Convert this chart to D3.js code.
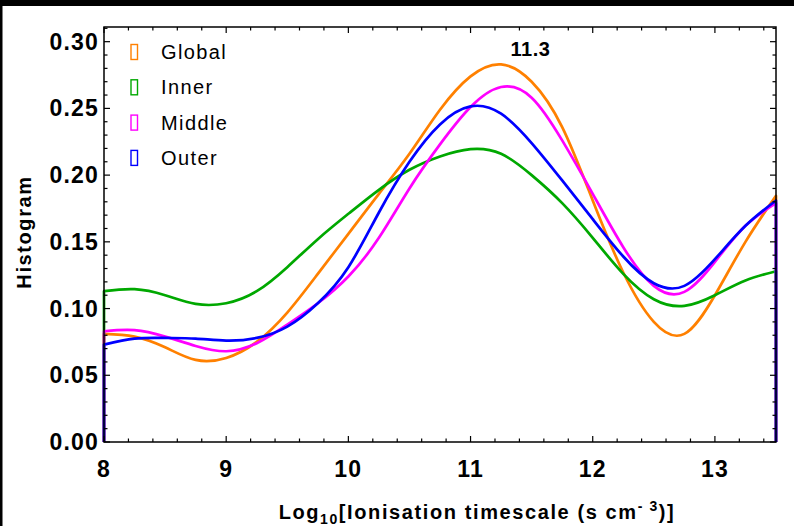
<!DOCTYPE html>
<html>
<head>
<meta charset="utf-8">
<script src="https://cdn.jsdelivr.net/npm/d3@7"></script>
<style>
  html, body { margin: 0; padding: 0; background: #fff; }
  svg { display: block; font-family: 'Liberation Sans', Arial, sans-serif; }
  .tick-label { font-weight: bold; font-size: 23px; letter-spacing: 1.2px; }
  .axis-title { font-weight: bold; font-size: 20px; letter-spacing: 1.6px; }
  .legend text { font-size: 20px; letter-spacing: 1.4px; }
</style>
</head>
<body>
<div id="chart"></div>
<script>
// x grid (log10 ionisation timescale)
const xs = [8, 8.25, 8.5, 8.75, 9, 9.25, 9.5, 9.75, 10, 10.25, 10.5, 10.75,
  11, 11.25, 11.5, 11.75, 12, 12.25, 12.5, 12.75, 13, 13.25, 13.5];

// histogram values, one array per region
const globalVals = [0.081, 0.079, 0.071, 0.0615, 0.063, 0.075, 0.097, 0.126, 0.156, 0.186, 0.216, 0.249,
  0.274, 0.283, 0.270, 0.236, 0.181, 0.127, 0.090, 0.081, 0.110, 0.150, 0.1845];
const innerVals = [0.113, 0.1145, 0.110, 0.1035, 0.104, 0.113, 0.131, 0.152, 0.171, 0.189, 0.204, 0.214,
  0.2195, 0.216, 0.200, 0.179, 0.153, 0.126, 0.107, 0.102, 0.110, 0.121, 0.128];
const middleVals = [0.083, 0.0838, 0.079, 0.072, 0.068, 0.074, 0.088, 0.104, 0.124, 0.153, 0.190, 0.223,
  0.251, 0.266, 0.258, 0.226, 0.186, 0.146, 0.117, 0.1125, 0.135, 0.162, 0.179];
const outerVals = [0.073, 0.0775, 0.078, 0.0775, 0.076, 0.078, 0.0865, 0.104, 0.131, 0.172, 0.210, 0.238,
  0.2515, 0.246, 0.224, 0.196, 0.167, 0.139, 0.119, 0.117, 0.137, 0.162, 0.181];

const seriesNames = ['Global', 'Inner', 'Middle', 'Outer'];
const seriesColors = ['#ff8000', '#00a800', '#ff00ff', '#0000ff'];
const seriesVals = [globalVals, innerVals, middleVals, outerVals];

const xTicks = [8, 9, 10, 11, 12, 13];
const yTicks = [0, 0.05, 0.10, 0.15, 0.20, 0.25, 0.30];
const peakLabel = '11.3';

const W = 794, H = 526;
const margin = { top: 27, right: 18, bottom: 84, left: 104 };
const width = W - margin.left - margin.right;
const height = H - margin.top - margin.bottom;

const svg = d3.select('#chart').append('svg')
  .attr('width', W).attr('height', H);

// black edges of the screenshot
svg.append('rect').attr('x', 0).attr('y', 0).attr('width', W).attr('height', 6).attr('fill', '#000');
svg.append('rect').attr('x', 0).attr('y', 0).attr('width', 2.5).attr('height', H).attr('fill', '#000');

const g = svg.append('g').attr('transform', `translate(${margin.left},${margin.top})`);

const xScale = d3.scaleLinear().domain([8, 13.5]).range([0, width]);
const yScale = d3.scaleLinear().domain([0, 0.311]).range([height, 0]);

// curves
const line = d3.line()
  .x(d => xScale(d[0]))
  .y(d => yScale(d[1]))
  .curve(d3.curveNatural);

seriesVals.forEach((vals, i) => {
  const pts = xs.map((x, j) => [x, vals[j]]);
  const p = line(pts);
  const d = `M${xScale(8)},${yScale(0)}L` + p.slice(1) + `L${xScale(13.5)},${yScale(0)}`;
  g.append('path')
    .attr('d', d)
    .attr('fill', 'none')
    .attr('stroke', seriesColors[i])
    .attr('stroke-width', 2.7)
    .attr('stroke-linejoin', 'round');
});

// frame
g.append('rect')
  .attr('width', width).attr('height', height)
  .attr('fill', 'none').attr('stroke', '#000').attr('stroke-width', 1.5);

// ticks (inward, all four sides)
const xMinor = d3.range(8, 13.5001, 0.2).filter(v => Math.abs(v - Math.round(v)) > 1e-6);
const yMinor = d3.range(0, 0.311, 0.01).filter(v => Math.abs(v * 20 - Math.round(v * 20)) > 1e-6);

const ticks = g.append('g').attr('stroke', '#000').attr('stroke-width', 1.2);
xTicks.forEach(v => {
  ticks.append('line').attr('x1', xScale(v)).attr('x2', xScale(v)).attr('y1', height).attr('y2', height - 6);
  ticks.append('line').attr('x1', xScale(v)).attr('x2', xScale(v)).attr('y1', 0).attr('y2', 6);
});
xMinor.forEach(v => {
  ticks.append('line').attr('x1', xScale(v)).attr('x2', xScale(v)).attr('y1', height).attr('y2', height - 3.5);
  ticks.append('line').attr('x1', xScale(v)).attr('x2', xScale(v)).attr('y1', 0).attr('y2', 3.5);
});
yTicks.forEach(v => {
  ticks.append('line').attr('x1', 0).attr('x2', 6).attr('y1', yScale(v)).attr('y2', yScale(v));
  ticks.append('line').attr('x1', width).attr('x2', width - 6).attr('y1', yScale(v)).attr('y2', yScale(v));
});
yMinor.forEach(v => {
  ticks.append('line').attr('x1', 0).attr('x2', 3.5).attr('y1', yScale(v)).attr('y2', yScale(v));
  ticks.append('line').attr('x1', width).attr('x2', width - 3.5).attr('y1', yScale(v)).attr('y2', yScale(v));
});

// tick labels
g.selectAll('.xl').data(xTicks).join('text')
  .attr('class', 'tick-label')
  .attr('x', d => xScale(d))
  .attr('y', height + 35)
  .attr('text-anchor', 'middle')
  .text(d => d);

g.selectAll('.yl').data(yTicks).join('text')
  .attr('class', 'tick-label')
  .attr('x', -5)
  .attr('y', d => yScale(d) + 8)
  .attr('text-anchor', 'end')
  .text(d => d.toFixed(2));

// axis titles
const xt = svg.append('text').attr('class', 'axis-title')
  .attr('x', 477).attr('y', 519).attr('text-anchor', 'middle');
xt.append('tspan').text('Log');
xt.append('tspan').attr('dy', 5).attr('font-size', '14px').text('10');
xt.append('tspan').attr('dy', -5).text('[Ionisation timescale (s cm');
xt.append('tspan').attr('dy', -8).attr('font-size', '14px').text('- 3');
xt.append('tspan').attr('dy', 8).text(')]');

svg.append('text').attr('class', 'axis-title')
  .attr('transform', 'translate(31,232) rotate(-90)')
  .attr('text-anchor', 'middle')
  .text('Histogram');

// peak annotation
g.append('text')
  .attr('x', xScale(11.49))
  .attr('y', yScale(0.289))
  .attr('text-anchor', 'middle')
  .attr('font-weight', 'bold')
  .attr('font-size', '20px')
  .attr('letter-spacing', '0.5px')
  .text(peakLabel);

// legend
const legend = g.append('g').attr('class', 'legend');
seriesNames.forEach((name, i) => {
  const row = legend.append('g').attr('transform', `translate(27,${25 + i * 35.3})`);
  row.append('rect')
    .attr('x', 0).attr('y', -7.5).attr('width', 6.5).attr('height', 15)
    .attr('fill', 'none').attr('stroke', seriesColors[i]).attr('stroke-width', 1.4);
  row.append('text').attr('x', 30).attr('y', 7).text(name);
});
</script>
</body>
</html>
